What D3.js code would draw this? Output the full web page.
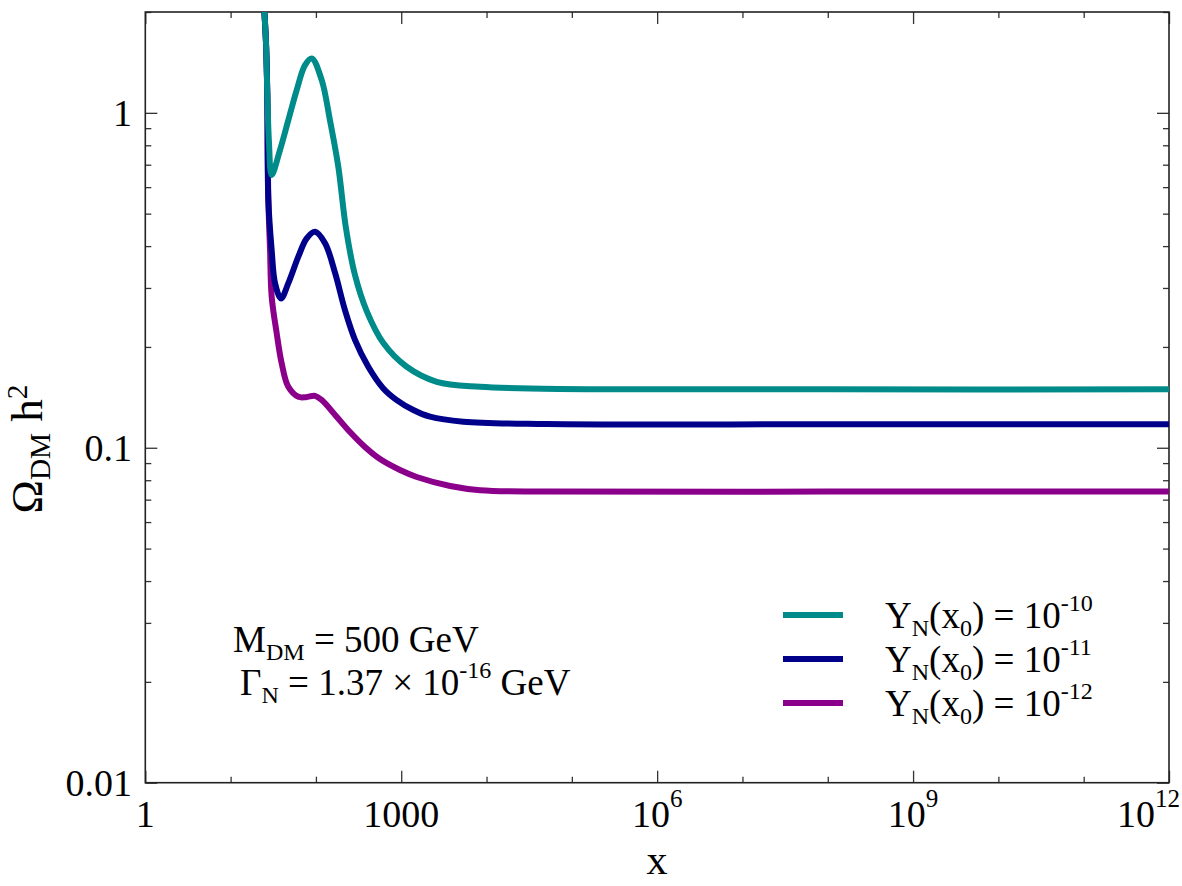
<!DOCTYPE html>
<html><head><meta charset="utf-8">
<script src="https://cdn.jsdelivr.net/npm/d3@7"></script>
<style>
body{margin:0;background:#fff}
svg{display:block}
text{font-family:"Liberation Serif","DejaVu Serif","Times New Roman",serif;fill:#000}
</style>
</head><body>
<svg id="chart" width="1182" height="886"></svg>
<script>
// ---------- data ----------
const xMajorTicks = [1, 1e3, 1e6, 1e9, 1e12];
const xTickBase   = ["1", "1000", "10", "10", "10"];
const xTickExp    = ["", "", "6", "9", "12"];
const xMinorTicks = [10, 100, 1e4, 1e5, 1e7, 1e8, 1e10, 1e11];
const yMajorTicks = [0.01, 0.1, 1];
const yTickLabels = ["0.01", "0.1", "1"];
const yMinorTicks = [0.02,0.03,0.04,0.05,0.06,0.07,0.08,0.09,0.2,0.3,0.4,0.5,0.6,0.7,0.8,0.9,2];

const seriesNames = ["1e-10", "1e-11", "1e-12"];
const legendExp   = ["-10", "-11", "-12"];
const seriesColors = ["#008b8b", "#00008b", "#8b008b"];

const tealX = [24.6, 26.0, 26.9, 28.2, 30.3, 37.9, 47.5, 59.5, 74.5, 89.3, 117, 146, 183, 225, 287, 394, 617, 1160, 2608, 8390, 32360, 213800, 1e8, 1e12];
const tealY = [2.10, 1.615, 1.145, 0.812, 0.652, 0.774, 0.951, 1.169, 1.388, 1.453, 1.252, 0.951, 0.690, 0.4527, 0.3278, 0.2559, 0.2054, 0.1745, 0.1574, 0.1521, 0.1504, 0.1496, 0.1494, 0.1494];

const navyX = [24.6, 26.0, 26.9, 27.7, 30.3, 33.2, 39.0, 47.5, 62.2, 78.0, 97.7, 128, 168, 219, 287, 411, 617, 886, 1387, 2176, 5350, 50800, 1e8, 1e12];
const navyY = [2.10, 1.615, 1.145, 0.549, 0.389, 0.310, 0.279, 0.310, 0.372, 0.422, 0.4415, 0.408, 0.332, 0.2576, 0.210, 0.1746, 0.1504, 0.1388, 0.1296, 0.1238, 0.1196, 0.1177, 0.1175, 0.1175];

const purpleX = [24.6, 26.0, 26.9, 27.7, 29.0, 30.3, 34.7, 39.7, 47.5, 62.2, 76.6, 97.7, 117, 175, 251, 376, 564, 968, 1520, 3753, 8436, 50800, 1e8, 1e12];
const purpleY = [2.10, 1.615, 1.145, 0.549, 0.389, 0.2825, 0.2196, 0.1786, 0.152, 0.1419, 0.1416, 0.1429, 0.1388, 0.1238, 0.1114, 0.1005, 0.0925, 0.0858, 0.0818, 0.0769, 0.0747, 0.0740, 0.0740, 0.0740];

// ---------- layout ----------
const W = 1182, H = 886;
const L = 145.3, R = 1169, T = 12, B = 782.7;

const svg = d3.select("#chart");
const x = d3.scaleLog().domain([1, 1e12]).range([L, R]);
const y = d3.scaleLog().domain([0.01, 2]).range([B, T]);

// rich text helper: parts = [[text, mode]] mode: 0 normal, -1 sub, 1 sup
function rich(sel, parts, size, subScale, subDy, supDy) {
  let cur = 0;
  parts.forEach(([t, m]) => {
    const target = m === -1 ? subDy : (m === 1 ? supDy : 0);
    sel.append("tspan").text(t).attr("dy", target - cur)
      .attr("font-size", m === 0 ? size : size * subScale);
    cur = target;
  });
  return sel;
}

// clip
svg.append("defs").append("clipPath").attr("id", "clip")
  .append("rect").attr("x", L).attr("y", T).attr("width", R - L).attr("height", B - T);

// ---------- axes ticks ----------
function styleAxis(g) {
  g.select(".domain").remove();
  g.selectAll(".tick line").attr("stroke", "#333").attr("stroke-width", 1.3);
  g.selectAll(".tick text").remove();
}
svg.append("g").attr("transform", `translate(0,${B})`)
  .call(d3.axisBottom(x).tickValues(xMajorTicks).tickSize(-12).tickFormat("")).call(styleAxis);
svg.append("g").attr("transform", `translate(0,${B})`)
  .call(d3.axisBottom(x).tickValues(xMinorTicks).tickSize(-6).tickFormat("")).call(styleAxis);
svg.append("g").attr("transform", `translate(0,${T})`)
  .call(d3.axisTop(x).tickValues(xMajorTicks).tickSize(-12).tickFormat("")).call(styleAxis);
svg.append("g").attr("transform", `translate(0,${T})`)
  .call(d3.axisTop(x).tickValues(xMinorTicks).tickSize(-6).tickFormat("")).call(styleAxis);
svg.append("g").attr("transform", `translate(${L},0)`)
  .call(d3.axisLeft(y).tickValues(yMajorTicks).tickSize(-12).tickFormat("")).call(styleAxis);
svg.append("g").attr("transform", `translate(${L},0)`)
  .call(d3.axisLeft(y).tickValues(yMinorTicks).tickSize(-6).tickFormat("")).call(styleAxis);
svg.append("g").attr("transform", `translate(${R},0)`)
  .call(d3.axisRight(y).tickValues(yMajorTicks).tickSize(-12).tickFormat("")).call(styleAxis);
svg.append("g").attr("transform", `translate(${R},0)`)
  .call(d3.axisRight(y).tickValues(yMinorTicks).tickSize(-6).tickFormat("")).call(styleAxis);

// x tick labels
xMajorTicks.forEach((v, i) => {
  const t = svg.append("text").attr("y", 827).attr("font-size", 38);
  const parts = [[xTickBase[i], 0]];
  if (xTickExp[i]) parts.push([xTickExp[i], 1]);
  rich(t, parts, 38, 0.66, 0, -20);
  const w = t.node().getComputedTextLength();
  let x0 = x(v) - w / 2;
  if (x0 + w > W - 2) x0 = W - 2 - w;
  t.attr("x", x0);
});
// y tick labels
yMajorTicks.forEach((v, i) => {
  svg.append("text").attr("x", 132).attr("y", y(v) + 13.5)
    .attr("text-anchor", "end").attr("font-size", 38).text(yTickLabels[i]);
});

// frame
svg.append("rect").attr("x", L).attr("y", T).attr("width", R - L).attr("height", B - T)
  .attr("fill", "none").attr("stroke", "#222").attr("stroke-width", 1.6);

// ---------- curves ----------
const line = d3.line().x(d => x(d[0])).y(d => y(d[1])).curve(d3.curveCatmullRom.alpha(0.5));
const series = [
  {x: purpleX, y: purpleY, c: seriesColors[2]},
  {x: navyX, y: navyY, c: seriesColors[1]},
  {x: tealX, y: tealY, c: seriesColors[0]}
];
const cg = svg.append("g").attr("clip-path", "url(#clip)");
series.forEach(s => {
  cg.append("path").datum(s.x.map((v, i) => [v, s.y[i]]))
    .attr("d", line).attr("fill", "none").attr("stroke", s.c)
    .attr("stroke-width", 6).attr("stroke-linejoin", "round");
});

// ---------- axis titles ----------
svg.append("text").attr("x", 657).attr("y", 874).attr("text-anchor", "middle")
  .attr("font-size", 42).text("x");
const yl = svg.append("text").attr("transform", "translate(42,449) rotate(-90)")
  .attr("text-anchor", "middle").attr("font-size", 45);
rich(yl, [["Ω", 0], ["DM", -1], [" h", 0], ["2", 1]], 45, 0.65, 8, -15);

// ---------- legend ----------
const legendY0 = 615, legendDY = 44;
seriesNames.forEach((n, i) => {
  const ly = legendY0 + i * legendDY;
  svg.append("line").attr("x1", 783).attr("x2", 843).attr("y1", ly).attr("y2", ly)
    .attr("stroke", seriesColors[i]).attr("stroke-width", 6);
  const t = svg.append("text").attr("x", 885).attr("y", ly + 13).attr("font-size", 37);
  rich(t, [["Y", 0], ["N", -1], ["(x", 0], ["0", -1], [") = 10", 0], [legendExp[i], 1]], 37, 0.65, 8, -17);
});

// ---------- annotation ----------
const a1 = svg.append("text").attr("x", 233).attr("y", 652).attr("font-size", 37);
rich(a1, [["M", 0], ["DM", -1], [" = 500 GeV", 0]], 37, 0.65, 8, -17);
const a2 = svg.append("text").attr("x", 240).attr("y", 695).attr("font-size", 37);
rich(a2, [["Γ", 0], ["N", -1], [" = 1.37 × 10", 0], ["-16", 1], [" GeV", 0]], 37, 0.65, 8, -17);
</script>
</body></html>
